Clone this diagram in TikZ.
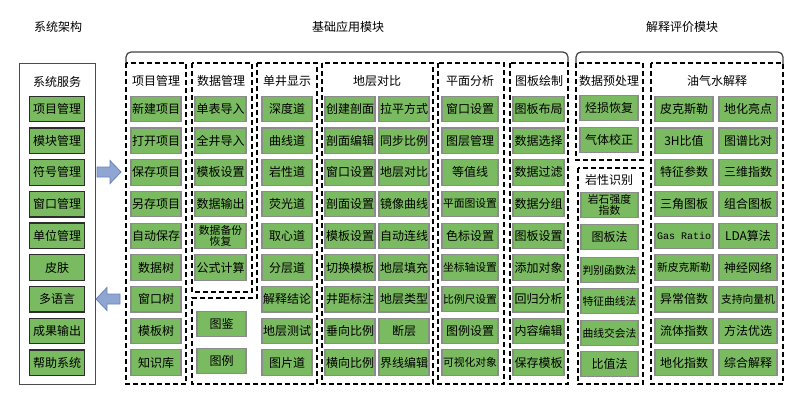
\documentclass[tikz,border=0pt]{standalone}
\usepackage{fontspec}
\setmainfont{Noto Sans CJK SC}
\newfontfamily\monof{Liberation Mono}
\definecolor{gfill}{RGB}{122,186,96}
\definecolor{gborder}{RGB}{140,140,140}
\definecolor{dborder}{RGB}{45,45,45}
\definecolor{afill}{RGB}{143,166,211}
\definecolor{aborder}{RGB}{105,132,187}
\begin{document}
\begin{tikzpicture}[x=1pt,y=-1pt,
  gbox/.style={draw=gborder, line width=1.1pt, fill=gfill, minimum width=#1,
    minimum height=25.5pt, inner sep=0pt, align=center,
    font=\fontsize{12}{12.5}\selectfont},
  gbox/.default=50pt,
  sbox/.style={gbox=55pt, draw=dborder, line width=1.3pt},
  twol/.style={font=\fontsize{10.8}{11}\selectfont},
  fivec/.style={font=\fontsize{10.8}{11}\selectfont},
  dbox/.style={draw=black, line width=1.4pt, dash pattern=on 5pt off 3pt},
  brace/.style={draw=black!75, line width=1.2pt, rounded corners=5pt},
  hdr/.style={font=\fontsize{12}{12.5}\selectfont, inner sep=0pt},
  ttl/.style={font=\fontsize{12}{13}\selectfont, inner sep=0pt},
  barrow/.style={draw=aborder, line width=0.8pt, fill=afill, line join=miter}
]
\useasboundingbox (0,0) rectangle (800,408);

% titles
\node[ttl] (t1) at (58,27) {系统架构};
\node[ttl] (t2) at (348,27) {基础应用模块};
\node[ttl] (t3) at (682,27) {解释评价模块};

% braces
\draw[brace] (126,64) -- (126,52) -- (568,52) -- (568,64);
\draw[brace] (576,64) -- (576,52) -- (783,52) -- (783,64);

% left system panel
\draw[draw=black!70, line width=0.9pt] (19,63) rectangle (95,384);
\node[hdr] (hs) at (57,82) {系统服务};
\foreach \t [count=\i] in {项目管理,模块管理,符号管理,窗口管理,单位管理,皮肤,多语言,成果输出,帮助系统}
  \node[sbox] (s\i) at (57,{109+31.7*(\i-1)}) {\t};

% block arrows
\draw[barrow] (97,167) -- (110,167) -- (110,160.5) -- (121,172) -- (110,183.5) -- (110,177) -- (97,177) -- cycle;
\draw[barrow] (120,294) -- (107,294) -- (107,287.5) -- (96,299) -- (107,310.5) -- (107,304) -- (120,304) -- cycle;

% dashed boxes
\draw[dbox] (126,63) rectangle (186,384);
\draw[dbox] (192,63) rectangle (252,292);
\draw[dbox] (257,63) -- (317,63) -- (317,384) -- (192,384) -- (192,298) -- (257,298) -- cycle;
\draw[dbox] (322,63) rectangle (433,384);
\draw[dbox] (438,63) rectangle (504,384);
\draw[dbox] (510,63) rectangle (568,384);
\draw[dbox] (576,63) rectangle (643,160);
\draw[dbox] (578,168) rectangle (643,384);
\draw[dbox] (651,63) rectangle (783,384);

% headers
\node[hdr] (h1) at (156,81) {项目管理};
\node[hdr] (h2) at (221,81) {数据管理};
\node[hdr] (h3) at (287,81) {单井显示};
\node[hdr] (h4) at (377,81) {地层对比};
\node[hdr] (h5) at (470,81) {平面分析};
\node[hdr] (h6) at (539,81) {图板绘制};
\node[hdr] (h7) at (609,81) {数据预处理};
\node[hdr] (h8) at (609,180) {岩性识别};
\node[hdr] (h9) at (717,81) {油气水解释};

% 项目管理
\foreach \t [count=\i] in {新建项目,打开项目,保存项目,另存项目,自动保存,数据树,窗口树,模板树,知识库}
  \node[gbox] (p\i) at (156,{109+31.7*(\i-1)}) {\t};
% 数据管理
\foreach \t [count=\i] in {单表导入,全井导入,模板设置,数据输出}
  \node[gbox=51pt] (d\i) at (220.5,{109+31.7*(\i-1)}) {\t};
\node[gbox=51pt, twol] (d5) at (220.5,236) {数据备份\\恢复};
\node[gbox=51pt] (d6) at (220.5,267.5) {公式计算};
\node[gbox=49pt] (tj) at (221.5,324) {图鉴};
\node[gbox=49pt] (tl) at (221.5,361) {图例};
% 单井显示
\foreach \t [count=\i] in {深度道,曲线道,岩性道,荧光道,取心道,分层道,解释结论,地层测试,图片道}
  \node[gbox] (w\i) at (287,{109+31.7*(\i-1)}) {\t};
% 地层对比
\foreach \t [count=\i] in {创建剖面,剖面编辑,窗口设置,剖面设置,模板设置,切换模板,井距标注,垂向比例,横向比例}
  \node[gbox] (ca\i) at (350,{109+31.7*(\i-1)}) {\t};
\foreach \t [count=\i] in {拉平方式,同步比例,地层对比,镜像曲线,自动连线,地层填充,地层类型,断层,界线编辑}
  \node[gbox] (cb\i) at (404,{109+31.7*(\i-1)}) {\t};
% 平面分析
\foreach \t [count=\i] in {窗口设置,图层管理,等值线}
  \node[gbox=56pt] (m\i) at (470,{109+31.7*(\i-1)}) {\t};
\node[gbox=56pt, fivec] (m4) at (470,204) {平面图设置};
\node[gbox=56pt] (m5) at (470,236) {色标设置};
\node[gbox=56pt, fivec] (m6) at (470,267.5) {坐标轴设置};
\node[gbox=56pt, fivec] (m7) at (470,299) {比例尺设置};
\node[gbox=56pt] (m8) at (470,331) {图例设置};
\node[gbox=56pt, fivec] (m9) at (470,362.5) {可视化对象};
% 图板绘制
\foreach \t [count=\i] in {图板布局,数据选择,数据过滤,数据分组,图板设置,添加对象,回归分析,内容编辑,保存模板}
  \node[gbox=51pt] (b\i) at (538.5,{109+31.7*(\i-1)}) {\t};
% 数据预处理
\node[gbox=58pt] (y1) at (609,108) {烃损恢复};
\node[gbox=58pt] (y2) at (609,140) {气体校正};
% 岩性识别
\node[gbox=57pt, twol] (l1) at (609.5,205) {岩石强度\\指数};
\node[gbox=57pt] (l2) at (609.5,237) {图板法};
\node[gbox=57pt, fivec] (l3) at (609.5,270) {判别函数法};
\node[gbox=57pt, fivec] (l4) at (609.5,301) {特征曲线法};
\node[gbox=57pt, fivec] (l5) at (609.5,333) {曲线交会法};
\node[gbox=57pt] (l6) at (609.5,364) {比值法};
% 油气水解释
\node[gbox=58pt] (o1) at (684,109) {皮克斯勒};
\node[gbox=58pt] (o2) at (684,140.7) {3H比值};
\node[gbox=58pt] (o3) at (684,172.4) {特征参数};
\node[gbox=58pt] (o4) at (684,204.1) {三角图板};
\node[gbox=58pt, font=\monof\fontsize{10}{11}\selectfont] (o5) at (684,235.8) {Gas Ratio};
\node[gbox=58pt, fivec] (o6) at (684,267.5) {新皮克斯勒};
\node[gbox=58pt] (o7) at (684,299.2) {异常倍数};
\node[gbox=58pt] (o8) at (684,330.9) {流体指数};
\node[gbox=58pt] (o9) at (684,362.6) {地化指数};
\foreach \t [count=\i] in {地化亮点,图谱比对,三维指数,组合图板,LDA算法}
  \node[gbox=58pt] (q\i) at (748,{109+31.7*(\i-1)}) {\t};
\node[gbox=58pt] (q6) at (748,267.5) {神经网络};
\node[gbox=58pt, fivec] (q7) at (748,299.2) {支持向量机};
\node[gbox=58pt] (q8) at (748,330.9) {方法优选};
\node[gbox=58pt] (q9) at (748,362.6) {综合解释};
\end{tikzpicture}
\end{document}
